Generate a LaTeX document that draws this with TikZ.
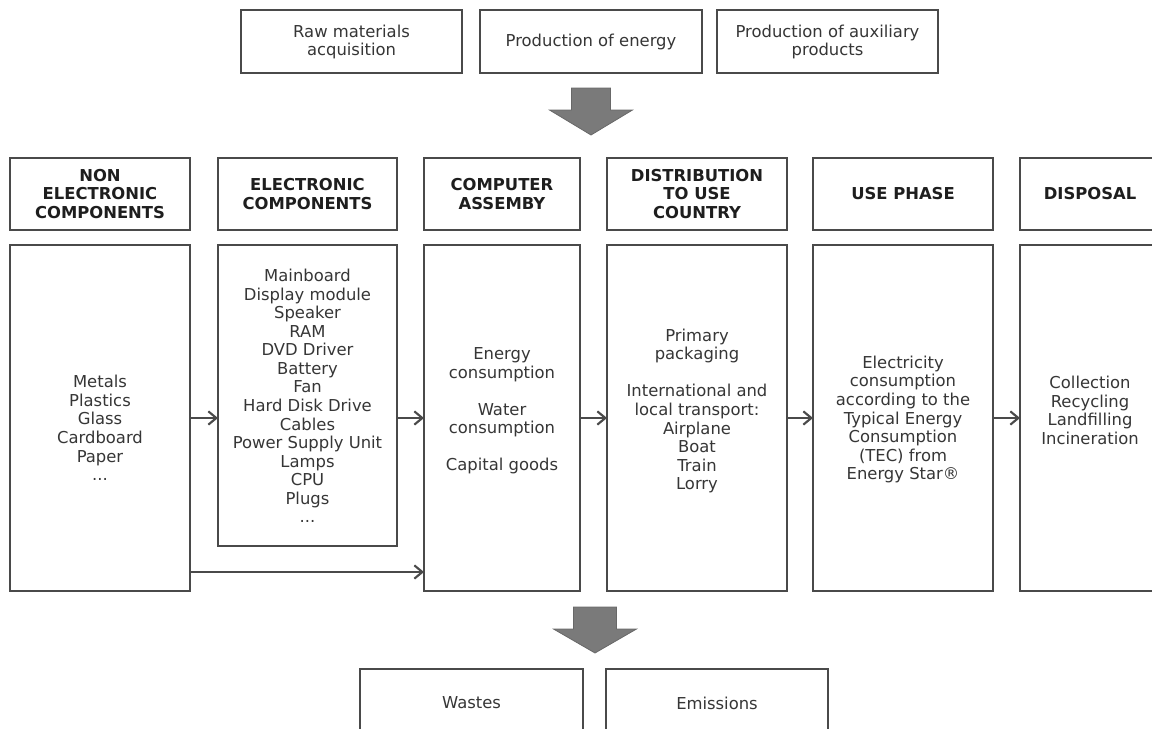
\documentclass[tikz,border=0pt]{standalone}
\usepackage{fontspec}
\setmainfont{DejaVu Sans}
\usetikzlibrary{arrows.meta}
\definecolor{linec}{HTML}{4A4A4A}
\definecolor{textc}{HTML}{363636}
\definecolor{headc}{HTML}{1E1E1E}
\definecolor{arrowc}{HTML}{7A7A7A}
\begin{document}
\begin{tikzpicture}[x=0.75pt,y=-0.75pt,
  box/.style={draw=linec,line width=1.9pt,fill=white,inner sep=0pt,outer sep=0pt},
  txt/.style={text=textc,align=center,inner sep=0pt,font=\fontsize{12.3pt}{13.9pt}\selectfont},
  headtxt/.style={text=headc,align=center,inner sep=0pt,font=\fontsize{12.3pt}{13.9pt}\selectfont\bfseries},
  flow/.style={draw=linec,line width=1.6pt,-{Straight Barb[length=6pt,width=10pt,line width=1.6pt]}},
  bigarrow/.style={fill=arrowc,draw=arrowc!85!black,line width=0.6pt}]
\useasboundingbox (0,0) rectangle (1152,728);
\clip (0,0) rectangle (1152,728);

% top boxes
\node[box,minimum width=165.75pt,minimum height=47.25pt] (t1) at (351.5,41.5) {};
\node[box,minimum width=166.5pt,minimum height=47.25pt] (t2) at (591,41.5) {};
\node[box,minimum width=165.75pt,minimum height=47.25pt] (t3) at (827.5,41.5) {};
\node[txt] (t1t) at (351.5,42) {Raw materials\\acquisition};
\node[txt] (t2t) at (591,42) {Production of energy};
\node[txt] (t3t) at (827.5,42) {Production of auxiliary\\products};

% top big arrow
\fill[bigarrow] (571.5,88) -- (610.5,88) -- (610.5,110) -- (632.5,110) -- (591,135)
  -- (549.5,110) -- (571.5,110) -- cycle;

% header boxes
\node[box,minimum width=135pt,minimum height=54pt] (hA) at (100,194) {};
\node[box,minimum width=134.25pt,minimum height=54pt] (hB) at (307.5,194) {};
\node[box,minimum width=117pt,minimum height=54pt] (hC) at (502,194) {};
\node[box,minimum width=135pt,minimum height=54pt] (hD) at (697,194) {};
\node[box,minimum width=135pt,minimum height=54pt] (hE) at (903,194) {};
\node[box,minimum width=105pt,minimum height=54pt] (hF) at (1090,194) {};
\node[headtxt] (hAt) at (100,194) {NON\\ELECTRONIC\\COMPONENTS};
\node[headtxt] (hBt) at (307.5,194) {ELECTRONIC\\COMPONENTS};
\node[headtxt] (hCt) at (502,194) {COMPUTER\\ASSEMBY};
\node[headtxt] (hDt) at (697,194) {DISTRIBUTION\\TO USE\\COUNTRY};
\node[headtxt] (hEt) at (903,194) {USE PHASE};
\node[headtxt] (hFt) at (1090,194) {DISPOSAL};

% body boxes
\node[box,minimum width=135pt,minimum height=259.5pt] (bA) at (100,418) {};
\node[box,minimum width=134.25pt,minimum height=225.75pt] (bB) at (307.5,395.5) {};
\node[box,minimum width=117pt,minimum height=259.5pt] (bC) at (502,418) {};
\node[box,minimum width=135pt,minimum height=259.5pt] (bD) at (697,418) {};
\node[box,minimum width=135pt,minimum height=259.5pt] (bE) at (903,418) {};
\node[box,minimum width=105pt,minimum height=259.5pt] (bF) at (1090,418) {};

\node[txt] (bAt) at (100,428) {Metals\\Plastics\\Glass\\Cardboard\\Paper\\...};
\node[txt] (bBt) at (307.5,396) {Mainboard\\Display module\\Speaker\\RAM\\DVD Driver\\Battery\\Fan\\Hard Disk Drive\\Cables\\Power Supply Unit\\Lamps\\CPU\\Plugs\\...};
\node[txt] (bCt) at (502,411) {Energy\\consumption\\[13.9pt]Water\\consumption\\[13.9pt]Capital goods};
\node[txt] (bDt) at (697,411) {Primary\\packaging\\[13.9pt]International and\\local transport:\\Airplane\\Boat\\Train\\Lorry};
\node[txt] (bEt) at (903,419.5) {Electricity\\consumption\\according to the\\Typical Energy\\Consumption\\(TEC) from\\Energy Star®};
\node[txt] (bFt) at (1090,410.5) {Collection\\Recycling\\Landfilling\\Incineration};

% flow connectors
\draw[flow] (bA.east |- 0,418) -- (bB.west |- 0,418);
\draw[flow] (bB.east |- 0,418) -- (bC.west |- 0,418);
\draw[flow] (bC.east |- 0,418) -- (bD.west |- 0,418);
\draw[flow] (bD.east |- 0,418) -- (bE.west |- 0,418);
\draw[flow] (bE.east |- 0,418) -- (bF.west |- 0,418);
\draw[flow] (bA.east |- 0,572) -- (bC.west |- 0,572);

% bottom big arrow
\fill[bigarrow] (573.5,607) -- (616.5,607) -- (616.5,629) -- (636.5,629) -- (595,653)
  -- (553.5,629) -- (573.5,629) -- cycle;

% bottom boxes
\node[box,minimum width=167.25pt,minimum height=51pt] (w) at (471.5,703) {};
\node[box,minimum width=166.5pt,minimum height=51pt] (e) at (717,703) {};
\node[txt] (wt) at (471.5,703) {Wastes};
\node[txt] (et) at (717,703) {Emissions};
\end{tikzpicture}
\end{document}
